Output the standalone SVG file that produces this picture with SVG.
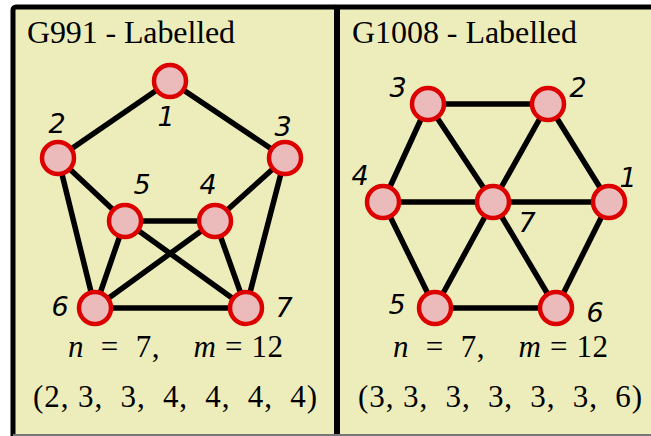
<svg xmlns="http://www.w3.org/2000/svg" width="651" height="436" viewBox="0 0 651 436">
<style>
.panel{fill:#EDEDBC;stroke:#000;stroke-width:5}
.e{stroke:#000;stroke-width:5.5;stroke-linecap:round}
.n{fill:#EBBBBB;stroke:#DD0000;stroke-width:4.5}
.lab{font-family:"DejaVu Sans",sans-serif;font-style:italic;font-size:27px;fill:#000;text-anchor:middle}
.title{font-family:"Liberation Serif",serif;font-size:32px;fill:#000}
.info{font-family:"Liberation Serif",serif;font-size:31px;fill:#000}
</style>
<rect x="0" y="0" width="651" height="436" fill="#fff"/>
<g id="panels">
<rect class="panel" x="13" y="7" width="324" height="440" rx="3"/>
<rect class="panel" x="337" y="7" width="330" height="440"/>
<line x1="337" y1="7" x2="337" y2="436" stroke="#000" stroke-width="6"/>
<line x1="13" y1="435" x2="651" y2="435" stroke="#777" stroke-width="2"/>
</g>
<text class="title" x="27" y="43" textLength="208">G991 - Labelled</text>
<text class="title" x="352" y="43" textLength="225">G1008 - Labelled</text>
<g id="connectors">
<line class="e" x1="170" y1="81" x2="58" y2="158"/>
<line class="e" x1="170" y1="81" x2="285" y2="158"/>
<line class="e" x1="58" y1="158" x2="125" y2="221"/>
<line class="e" x1="58" y1="158" x2="95" y2="308"/>
<line class="e" x1="285" y1="158" x2="215" y2="221"/>
<line class="e" x1="285" y1="158" x2="246" y2="308"/>
<line class="e" x1="125" y1="221" x2="215" y2="221"/>
<line class="e" x1="125" y1="221" x2="95" y2="308"/>
<line class="e" x1="125" y1="221" x2="246" y2="308"/>
<line class="e" x1="215" y1="221" x2="95" y2="308"/>
<line class="e" x1="215" y1="221" x2="246" y2="308"/>
<line class="e" x1="95" y1="308" x2="246" y2="308"/>
<line class="e" x1="428" y1="104" x2="548" y2="104"/>
<line class="e" x1="428" y1="104" x2="383" y2="202"/>
<line class="e" x1="428" y1="104" x2="493" y2="202"/>
<line class="e" x1="548" y1="104" x2="493" y2="202"/>
<line class="e" x1="548" y1="104" x2="609" y2="202"/>
<line class="e" x1="383" y1="202" x2="609" y2="202"/>
<line class="e" x1="383" y1="202" x2="435" y2="308"/>
<line class="e" x1="493" y1="202" x2="435" y2="308"/>
<line class="e" x1="493" y1="202" x2="556" y2="308"/>
<line class="e" x1="609" y1="202" x2="556" y2="308"/>
<line class="e" x1="435" y1="308" x2="556" y2="308"/>
</g>
<g id="a1"><circle class="n" cx="170" cy="81" r="16"/><text class="lab" x="166" y="126">1</text></g>
<g id="a2"><circle class="n" cx="58" cy="158" r="16"/><text class="lab" x="57" y="133">2</text></g>
<g id="a3"><circle class="n" cx="285" cy="158" r="16"/><text class="lab" x="283" y="136">3</text></g>
<g id="a4"><circle class="n" cx="215" cy="221" r="16"/><text class="lab" x="208" y="194">4</text></g>
<g id="a5"><circle class="n" cx="125" cy="221" r="16"/><text class="lab" x="142" y="194">5</text></g>
<g id="a6"><circle class="n" cx="95" cy="308" r="16"/><text class="lab" x="60" y="316">6</text></g>
<g id="a7"><circle class="n" cx="246" cy="308" r="16"/><text class="lab" x="284" y="317">7</text></g>
<g id="b1"><circle class="n" cx="609" cy="202" r="16"/><text class="lab" x="628" y="187">1</text></g>
<g id="b2"><circle class="n" cx="548" cy="104" r="16"/><text class="lab" x="578" y="97">2</text></g>
<g id="b3"><circle class="n" cx="428" cy="104" r="16"/><text class="lab" x="398" y="97">3</text></g>
<g id="b4"><circle class="n" cx="383" cy="202" r="16"/><text class="lab" x="360" y="185">4</text></g>
<g id="b5"><circle class="n" cx="435" cy="308" r="16"/><text class="lab" x="397" y="314">5</text></g>
<g id="b6"><circle class="n" cx="556" cy="308" r="16"/><text class="lab" x="595" y="322">6</text></g>
<g id="b7"><circle class="n" cx="493" cy="202" r="16"/><text class="lab" x="527" y="232">7</text></g>
<text class="info" x="68" y="357" textLength="215" xml:space="preserve"><tspan font-style="italic">n</tspan>  =  7,    <tspan font-style="italic">m</tspan> = 12</text>
<text class="info" x="33" y="407" textLength="284" xml:space="preserve">(2, 3,  3,  4,  4,  4,  4)</text>
<text class="info" x="393" y="357" textLength="215" xml:space="preserve"><tspan font-style="italic">n</tspan>  =  7,    <tspan font-style="italic">m</tspan> = 12</text>
<text class="info" x="358" y="407" textLength="284" xml:space="preserve">(3, 3,  3,  3,  3,  3,  6)</text>
</svg>
